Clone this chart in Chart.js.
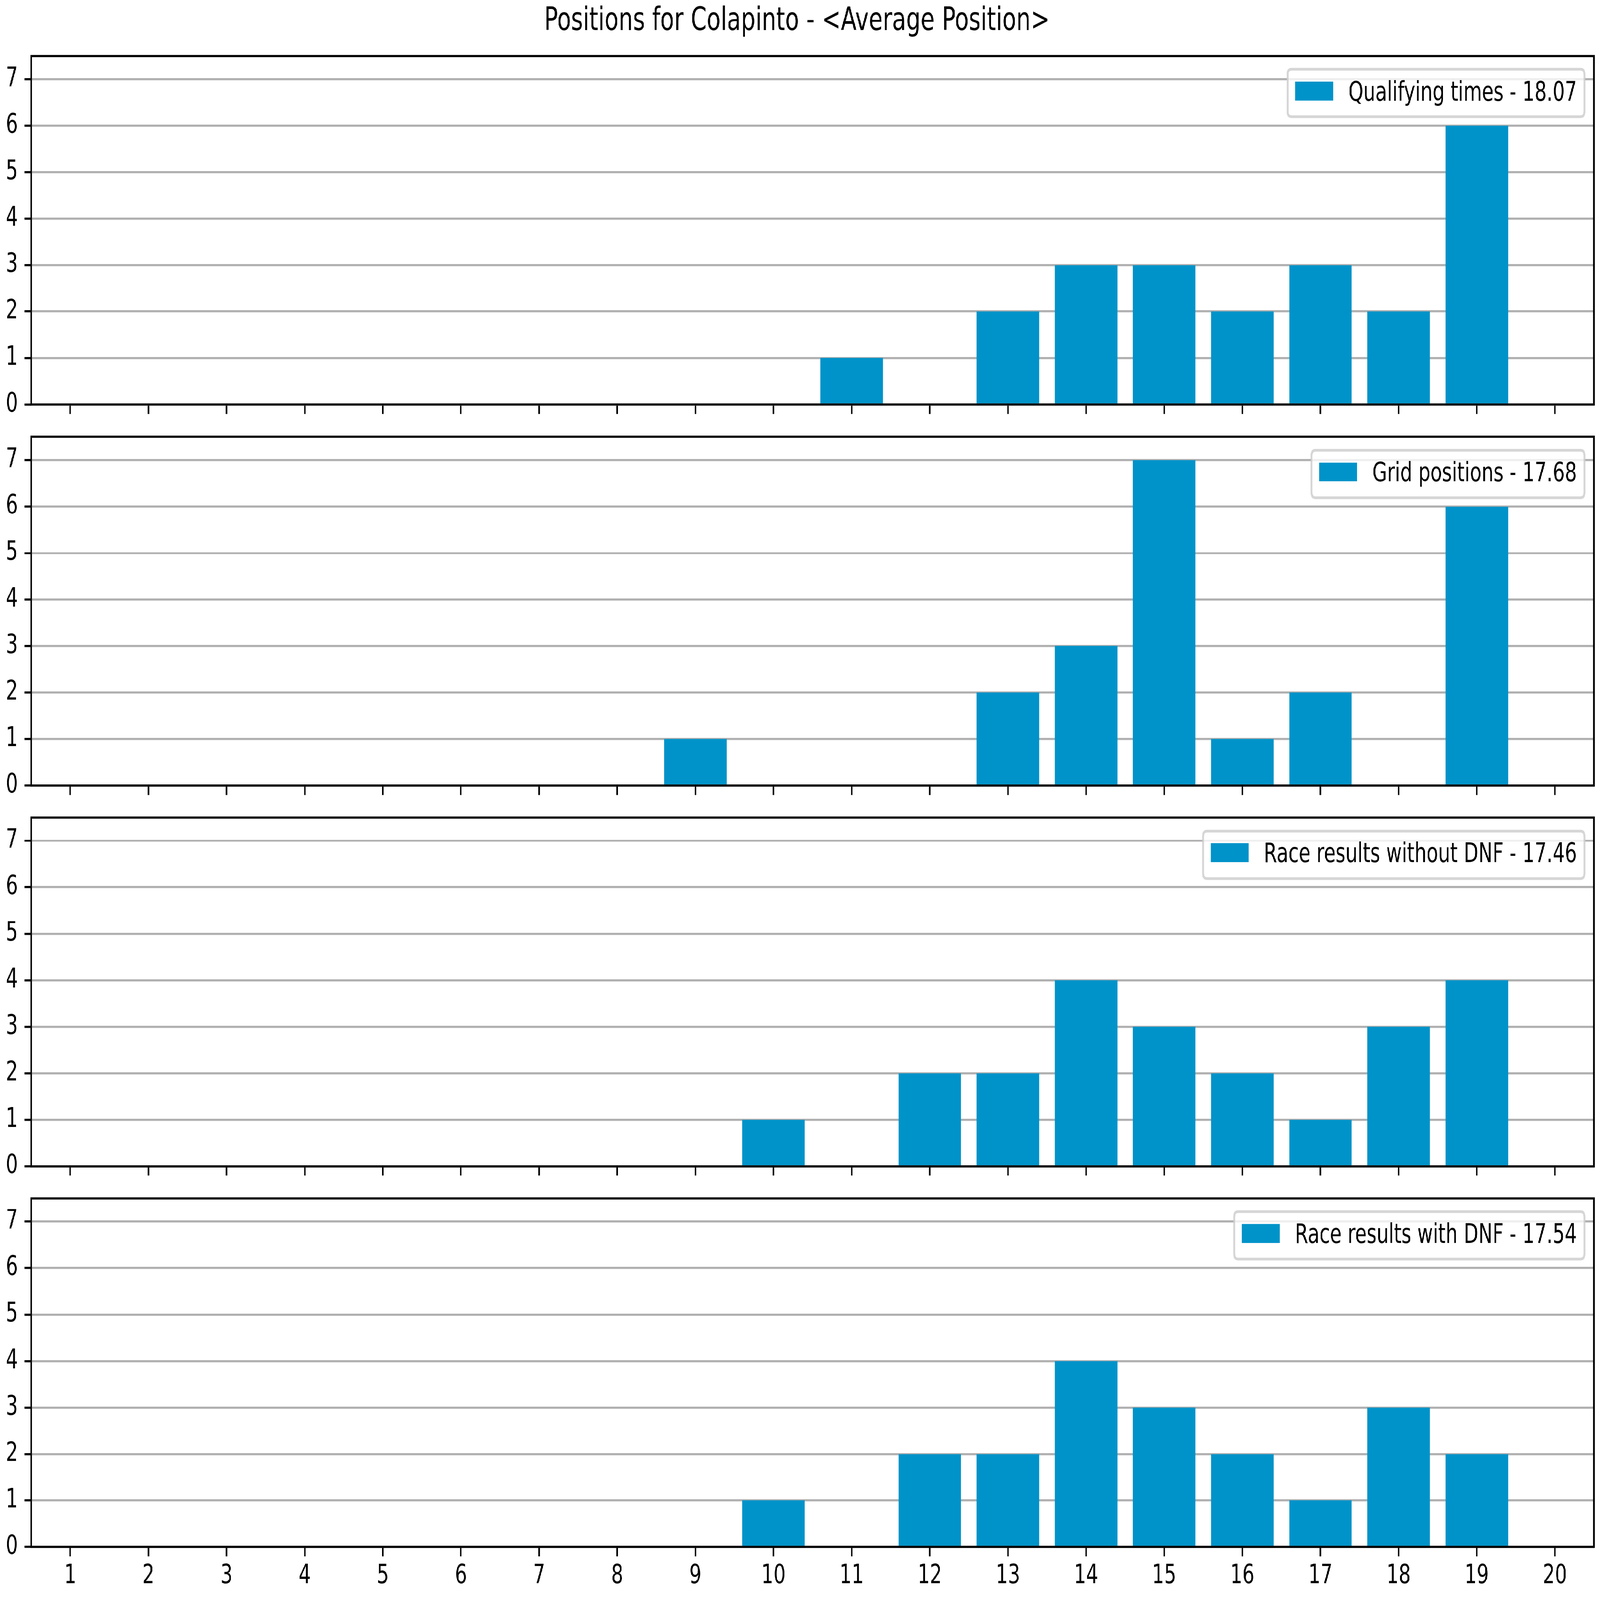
<!DOCTYPE html>
<html><head><meta charset="utf-8">
<script src="https://cdn.jsdelivr.net/npm/chart.js@4"></script>
<style>
html,body{margin:0;padding:0;background:#fff;overflow:hidden;}
#stage{position:absolute;left:0;top:0;width:5845px;height:4135px;transform-origin:0 0;background:#fff;}
#stage canvas{position:absolute;left:0;}
</style></head><body>
<div id="stage"><canvas id="c0"></canvas><canvas id="c1"></canvas><canvas id="c2"></canvas><canvas id="c3"></canvas></div>
<script>
// ---- data ----
const positions = ['1','2','3','4','5','6','7','8','9','10','11','12','13','14','15','16','17','18','19','20'];
const qualifying = [0,0,0,0,0,0,0,0,0,0,1,0,2,3,3,2,3,2,6,0];
const gridPositions = [0,0,0,0,0,0,0,0,1,0,0,0,2,3,7,1,2,0,6,0];
const raceNoDnf = [0,0,0,0,0,0,0,0,0,1,0,2,2,4,3,2,1,3,4,0];
const raceDnf = [0,0,0,0,0,0,0,0,0,1,0,2,2,4,3,2,1,3,2,0];
const seriesLabels = ['Qualifying times - 18.07','Grid positions - 17.68','Race results without DNF - 17.46','Race results with DNF - 17.54'];
const yTicks = [0,1,2,3,4,5,6,7];
const titleText = 'Positions for Colapinto - <Average Position>';

// ---- layout (reference pixel frame, 500 dpi) ----
const W = 5845, H = 4135;
const PT = 500 / 72;              // px per point
const FS = 10 * PT;               // tick / legend font size
const TFS = 12 * PT;              // title font size
const LW = 0.8 * PT;              // axis / grid line width
const TL = 3.5 * PT;              // tick length and pad
const LEFT = 114, RIGHT = 5823;
const TOP0 = 144.5, PITCH = 984.2, PLOT_H = 901;
const BAR_COLOR = '#0093c9';
const FONT = '"DejaVu Sans", sans-serif';

const stage = document.getElementById('stage');
stage.style.transform = 'scale(' + (window.innerWidth / W) + ',' + (window.innerHeight / H) + ')';

Chart.defaults.font.family = FONT;
Chart.defaults.font.size = FS;
Chart.defaults.color = '#000';

const framePlugin = {
  id: 'frame',
  afterDatasetsDraw(chart) {
    const a = chart.chartArea, ctx = chart.ctx;
    ctx.save();
    ctx.strokeStyle = '#000';
    ctx.lineWidth = LW;
    ctx.strokeRect(a.left, a.top, a.right - a.left, a.bottom - a.top);
    ctx.restore();
  }
};

const legendPlugin = {
  id: 'legendBox',
  afterDraw(chart) {
    const ds = chart.data.datasets[0];
    const a = chart.chartArea, ctx = chart.ctx;
    ctx.save();
    ctx.font = FS + 'px ' + FONT;
    const tw = ctx.measureText(ds.label).width;
    const boxR = a.right - 0.5 * FS, boxT = a.top + 0.5 * FS, boxH = 122.5;
    const textX = boxR - 0.4 * FS - tw;
    const patchR = textX - 0.8 * FS, patchL = patchR - 2 * FS;
    const boxL = patchL - 0.4 * FS;
    const r = 0.2 * FS;
    ctx.beginPath();
    ctx.moveTo(boxL + r, boxT);
    ctx.lineTo(boxR - r, boxT);
    ctx.quadraticCurveTo(boxR, boxT, boxR, boxT + r);
    ctx.lineTo(boxR, boxT + boxH - r);
    ctx.quadraticCurveTo(boxR, boxT + boxH, boxR - r, boxT + boxH);
    ctx.lineTo(boxL + r, boxT + boxH);
    ctx.quadraticCurveTo(boxL, boxT + boxH, boxL, boxT + boxH - r);
    ctx.lineTo(boxL, boxT + r);
    ctx.quadraticCurveTo(boxL, boxT, boxL + r, boxT);
    ctx.closePath();
    ctx.fillStyle = 'rgba(255,255,255,0.8)';
    ctx.fill();
    ctx.strokeStyle = 'rgba(204,204,204,0.8)';
    ctx.lineWidth = PT;
    ctx.stroke();
    ctx.fillStyle = ds.backgroundColor;
    ctx.fillRect(patchL, boxT + 31.7, 2 * FS, 0.7 * FS);
    ctx.fillStyle = '#000';
    ctx.textBaseline = 'alphabetic';
    ctx.textAlign = 'left';
    ctx.fillText(ds.label, textX, boxT + 80.3);
    ctx.restore();
  }
};

const seriesData = [qualifying, gridPositions, raceNoDnf, raceDnf];

seriesData.forEach((vals, i) => {
  const isFirst = i === 0, isLast = i === seriesData.length - 1;
  const plotTop = TOP0 + i * PITCH;
  const padTop = isFirst ? plotTop : 60;
  const TITLE_TOP = 6.2, TITLE_LH = 1.2 * TFS;
  const geom = { xH: isLast ? (H - (plotTop + PLOT_H)) : 60, yW: LEFT, padTop: isFirst ? 0 : padTop, padRight: W - RIGHT, titleBottom: plotTop - TITLE_TOP - TITLE_LH };
  const canvasTop = plotTop - padTop;
  const canvasH = Math.round(padTop + PLOT_H + geom.xH);
  const cv = document.getElementById('c' + i);
  cv.width = W; cv.height = canvasH;
  cv.style.width = W + 'px'; cv.style.height = canvasH + 'px';
  cv.style.top = canvasTop + 'px';

  const chart = new Chart(cv, {
    type: 'bar',
    data: {
      labels: positions,
      datasets: [{
        label: seriesLabels[i],
        data: vals,
        backgroundColor: BAR_COLOR,
        borderWidth: 0,
        barPercentage: 0.8,
        categoryPercentage: 1.0
      }]
    },
    options: {
      responsive: false,
      animation: false,
      devicePixelRatio: 1,
      layout: { padding: { left: 0, right: geom.padRight, top: geom.padTop, bottom: 0 } },
      plugins: {
        legend: { display: false },
        tooltip: { enabled: false },
        title: {
          display: isFirst,
          text: titleText,
          color: '#000',
          font: { size: TFS, weight: 'normal', family: FONT, lineHeight: 1.2 },
          padding: { top: TITLE_TOP, bottom: geom.titleBottom }
        }
      },
      scales: {
        x: {
          type: 'category',
          offset: true,
          grid: { display: true, drawOnChartArea: false, drawTicks: true, tickLength: TL, tickWidth: LW, tickColor: '#000', offset: false },
          border: { display: false },
          ticks: { display: isLast, padding: 10, color: '#000', font: { size: FS }, maxRotation: 0, autoSkip: false },
          afterFit: s => { s.height = geom.xH; s.paddingLeft = 0; s.paddingRight = 0; }
        },
        y: {
          type: 'linear',
          min: 0,
          max: 7.5,
          afterBuildTicks: s => { s.ticks = yTicks.map(v => ({ value: v })); },
          grid: { color: '#b0b0b0', lineWidth: LW, tickLength: TL, tickWidth: LW, tickColor: '#000' },
          border: { display: false },
          ticks: { padding: TL, color: '#000', font: { size: FS } },
          afterFit: s => { s.width = geom.yW; s.paddingTop = 0; s.paddingBottom = 0; }
        }
      }
    },
    plugins: [framePlugin, legendPlugin]
  });

  // pin the plot area to the reference frame
  for (let k = 0; k < 2; k++) {
    const a = chart.chartArea;
    const wantTop = padTop, wantBottom = padTop + PLOT_H;
    if (isFirst) geom.titleBottom += (wantTop - a.top); else geom.padTop += (wantTop - a.top);
    geom.xH += (a.bottom - wantBottom) + (wantTop - a.top);
    geom.yW += (LEFT - a.left);
    geom.padRight += (a.right - RIGHT);
    chart.options.layout.padding = { left: 0, right: geom.padRight, top: geom.padTop, bottom: 0 };
    chart.options.plugins.title.padding = { top: TITLE_TOP, bottom: geom.titleBottom };
    chart.update();
  }
});
</script>
</body></html>
